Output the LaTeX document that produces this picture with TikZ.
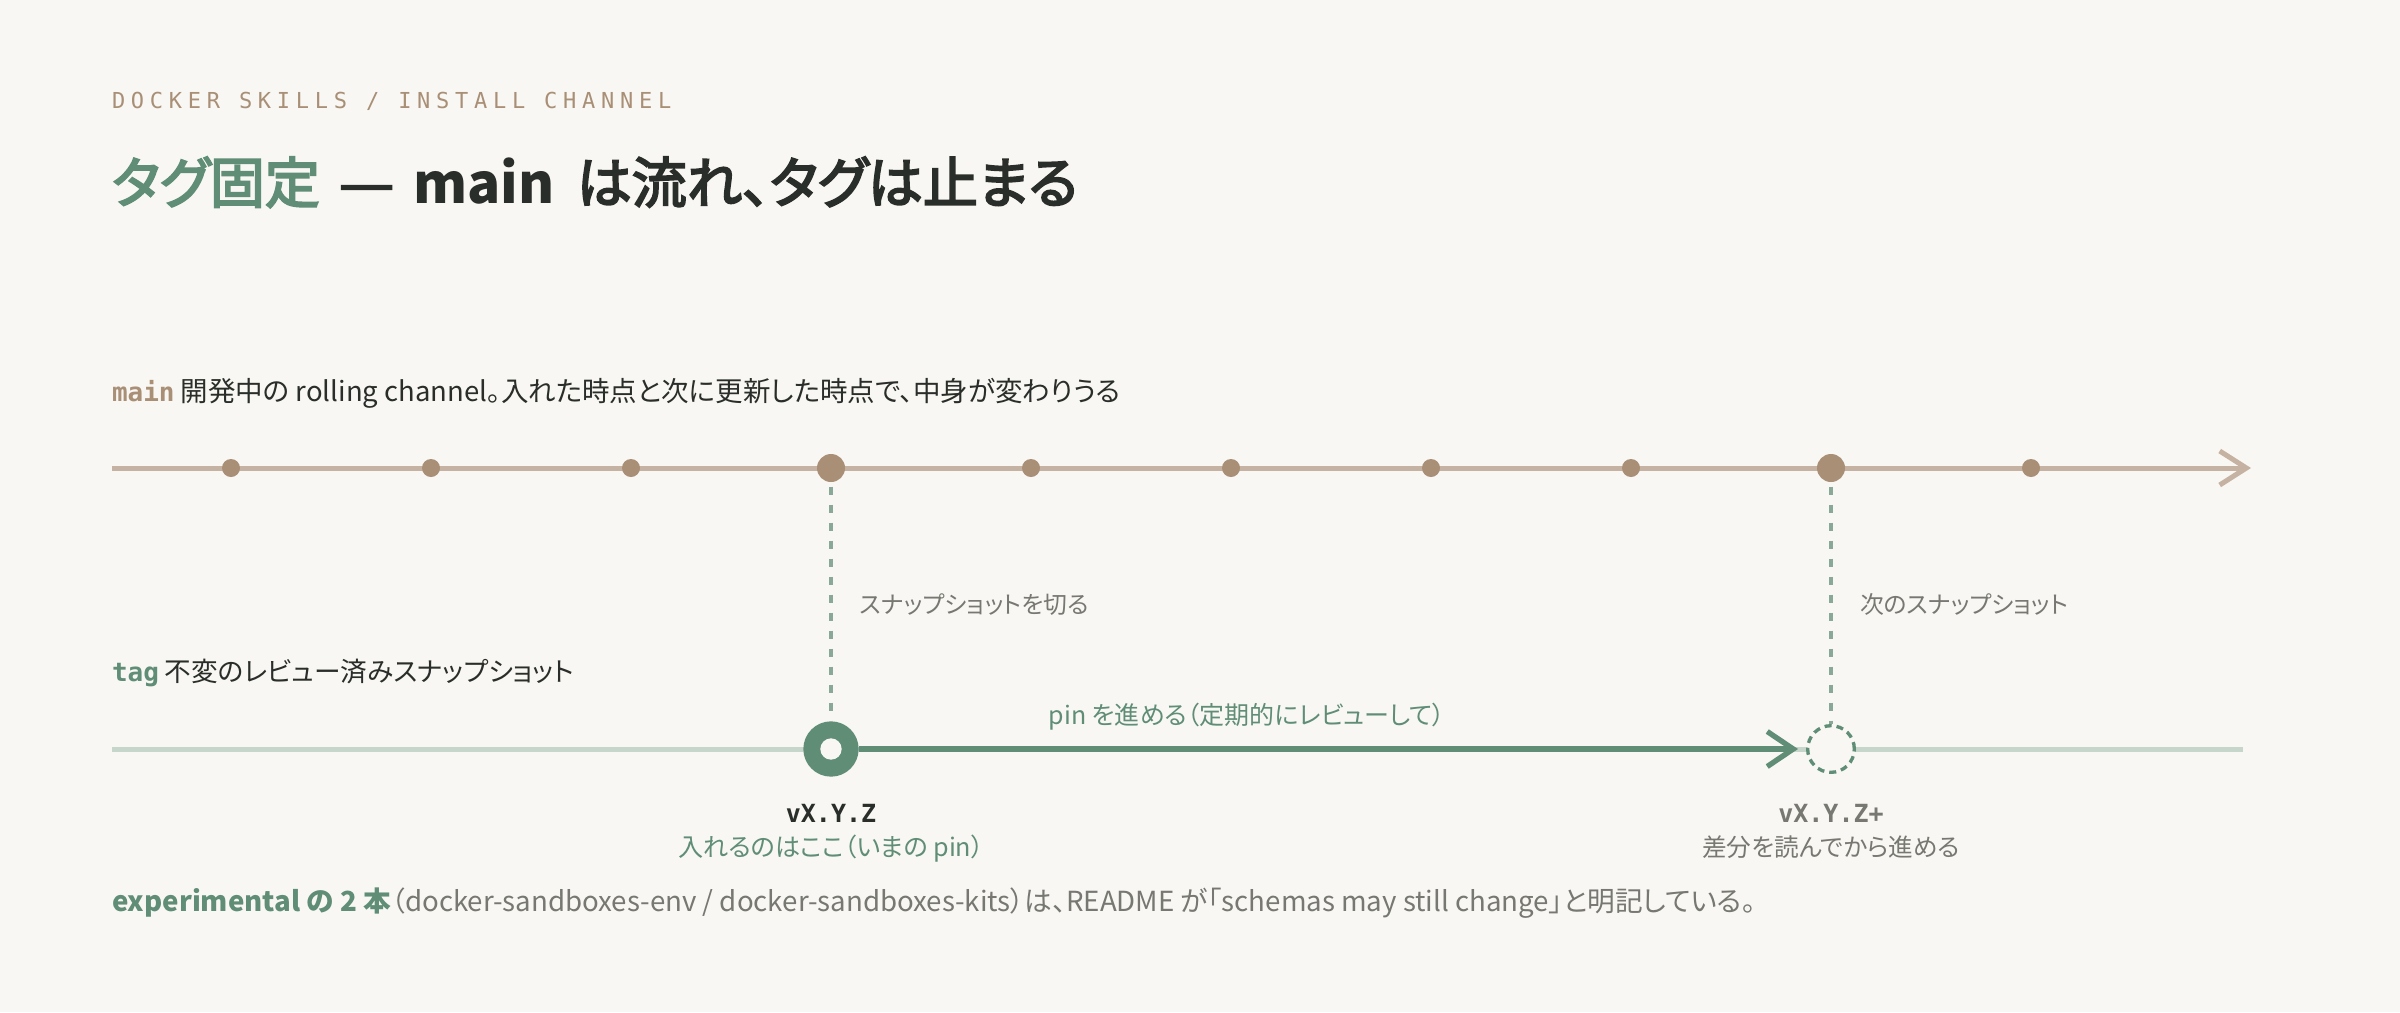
\documentclass[tikz,border=0pt]{standalone}
\usepackage{fontspec}
\setmainfont{Noto Sans CJK JP}[RawFeature=+palt]
\setmonofont{DejaVu Sans Mono}
\newfontfamily\kickerfont{DejaVu Sans Mono}[LetterSpace=26]
\newfontfamily\titlefont{Noto Sans CJK JP}[RawFeature=+palt,FakeBold=3.5]
\usetikzlibrary{arrows.meta}
\definecolor{paper}{HTML}{F9F7F3}
\definecolor{ink}{HTML}{2A2E2A}
\definecolor{mute}{HTML}{777872}
\definecolor{tan}{HTML}{A88F76}
\definecolor{tanline}{HTML}{C6B2A2}
\definecolor{pine}{HTML}{5F8D75}
\definecolor{pineline}{HTML}{C6D6CB}
\definecolor{pinedash}{HTML}{8AA898}
\begin{document}
\begin{tikzpicture}[x=0.3pt,y=-0.3pt,
  txt/.style={anchor=base west,inner sep=0pt,outer sep=0pt},
  ctxt/.style={anchor=base,inner sep=0pt,outer sep=0pt},
  dot/.style={circle,fill=tan,inner sep=0pt,minimum size=5.4pt},
  bigdot/.style={dot,minimum size=8.4pt},
  snapline/.style={draw=pinedash,line width=1.2pt,dash pattern=on 2.4pt off 3pt}]
\useasboundingbox[fill=paper] (0,0) rectangle (2400,1012);
% heading
\node[txt,text=tan,font=\kickerfont\fontsize{6.6pt}{8pt}\selectfont] (kicker) at (112,108) {DOCKER SKILLS / INSTALL CHANNEL};
\node[txt,text=ink,font=\titlefont\fontsize{16.5pt}{19pt}\selectfont] (title) at (112,203) {\textcolor{pine}{タグ固定}\hspace{0.35em}\scalebox{1.12}[1]{—}\hspace{0.35em}{\rmfamily\bfseries main}\hspace{0.4em}は流れ、タグは止まる};
% main channel
\node[txt,text=ink,font=\fontsize{8.25pt}{10pt}\selectfont] (mainlbl) at (112,401) {\textcolor{tan}{\ttfamily\bfseries\fontsize{7.8pt}{9pt}\selectfont main} 開発中の rolling channel。入れた時点と次に更新した時点で、中身が変わりうる};
\coordinate (mstart) at (112,468);
\coordinate (mend) at (2251,468);
\draw[tanline,line width=1.5pt,-{Straight Barb[length=8pt,width=10.2pt,line width=1.5pt]}] (mstart) -- (mend);
\foreach \i in {0,...,9} {
  \ifnum\i=3 \node[bigdot] (d\i) at (231+200*\i,468) {};
  \else\ifnum\i=8 \node[bigdot] (d\i) at (231+200*\i,468) {};
  \else \node[dot] (d\i) at (231+200*\i,468) {};
  \fi\fi
}
% tag channel
\node[txt,text=ink,font=\fontsize{8pt}{10pt}\selectfont] (taglbl) at (112,681) {\textcolor{pine}{\ttfamily\bfseries\fontsize{7.8pt}{9pt}\selectfont tag} 不変のレビュー済みスナップショット};
\coordinate (tstart) at (112,749);
\coordinate (tend) at (2243,749);
\draw[pineline,line width=1.5pt] (tstart) -- (tend);
\node[circle,fill=pine,inner sep=0pt,minimum size=16.6pt] (pin) at (831,749) {};
\node[circle,fill=paper,inner sep=0pt,minimum size=6.4pt] at (pin) {};
\node[circle,draw=pine,fill=paper,line width=1pt,dash pattern=on 2.1pt off 1.5pt,inner sep=0pt,minimum size=14pt] (next) at (1831,749) {};
\draw[pine,line width=1.6pt,shorten >=2.4pt,-{Straight Barb[length=7.8pt,width=10.5pt,line width=1.6pt]}] (pin.east) -- (next.west);
% snapshots
\draw[snapline,shorten <=1.2pt] (d3.south) -- (pin.north);
\draw[snapline,shorten <=1.2pt] (d8.south) -- (next.north);
\node[txt,text=mute,font=\fontsize{7.15pt}{8pt}\selectfont] (cut) at (860,613) {スナップショットを切る};
\node[txt,text=mute,font=\fontsize{7.15pt}{8pt}\selectfont] (cutnext) at (1860,613) {次のスナップショット};
\node[ctxt,text=pine,font=\fontsize{7.5pt}{9pt}\selectfont] (advance) at (1247,724) {pin を進める（定期的にレビューして）};
% versions
\node[ctxt,text=ink,font=\ttfamily\bfseries\fontsize{7.5pt}{9pt}\selectfont] (ver) at (831,822) {vX.Y.Z};
\node[ctxt,text=pine,font=\fontsize{7.55pt}{9pt}\selectfont] (vernote) at (831,856) {入れるのはここ（いまの pin）};
\node[ctxt,text=mute,font=\ttfamily\bfseries\fontsize{7.5pt}{9pt}\selectfont] (vernext) at (1831,822) {vX.Y.Z+};
\node[ctxt,text=mute,font=\fontsize{7.4pt}{9pt}\selectfont] (vernextnote) at (1831,856) {差分を読んでから進める};
% footnote
\node[txt,text=mute,font=\fontsize{8.3pt}{10pt}\selectfont] (foot) at (112,911) {\textcolor{pine}{\bfseries experimental の 2 本}（docker-sandboxes-env / docker-sandboxes-kits）は、README が「schemas may still change」と明記している。};
\end{tikzpicture}
\end{document}
